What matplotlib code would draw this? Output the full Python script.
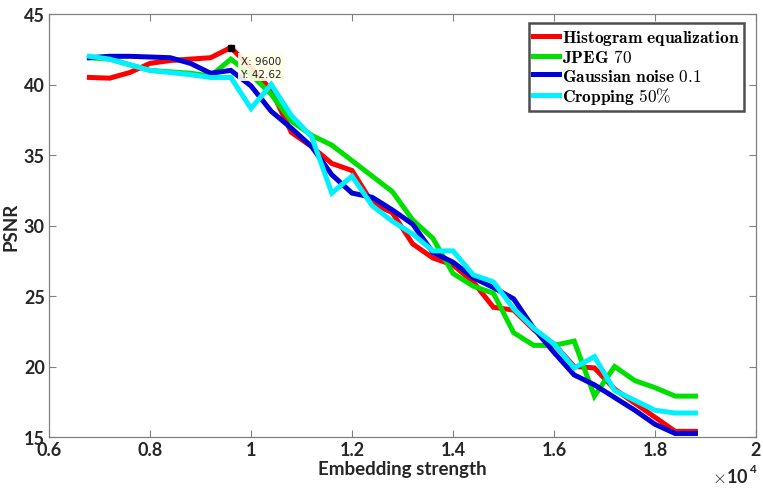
# -*- coding: utf-8 -*-
"""
PSNR vs embedding strength for four attacks (MATLAB style figure).
"""
import matplotlib
matplotlib.use('Agg')
import matplotlib.pyplot as plt

#------------------------------------------------------------------------------
# data
strength = [6800, 7200, 7600, 8000, 8400, 8800, 9200, 9600, 10000, 10400,
            10800, 11200, 11600, 12000, 12400, 12800, 13200, 13600, 14000,
            14400, 14800, 15200, 15600, 16000, 16400, 16800, 17200, 17600,
            18000, 18400, 18800]

hist_eq = [40.5, 40.45, 40.85, 41.5, 41.7, 41.8, 41.9, 42.62, 41.2, 39.6,
           36.6, 35.6, 34.4, 33.9, 31.6, 30.9, 28.7, 27.7, 27.2, 26.0,
           24.2, 24.0, 22.6, 21.6, 20.0, 19.9, 18.4, 17.4, 16.4, 15.4, 15.4]

jpeg70 = [41.9, 41.8, 41.4, 41.0, 40.9, 40.8, 40.6, 41.8, 40.7, 39.3,
          37.4, 36.4, 35.7, 34.6, 33.5, 32.4, 30.4, 29.1, 26.6, 25.7,
          25.2, 22.4, 21.5, 21.5, 21.8, 17.9, 20.0, 19.0, 18.5, 17.9, 17.9]

gauss01 = [41.9, 42.0, 42.0, 41.95, 41.9, 41.5, 40.8, 41.0, 39.9, 38.1,
           36.9, 35.6, 33.6, 32.3, 32.0, 31.1, 30.1, 28.1, 27.4, 26.3,
           25.6, 24.8, 22.7, 21.0, 19.4, 18.7, 17.8, 16.9, 15.9, 15.25, 15.25]

crop50 = [42.0, 41.8, 41.4, 41.0, 40.85, 40.7, 40.5, 40.5, 38.3, 40.0,
          37.8, 36.3, 32.3, 33.5, 31.4, 30.3, 29.4, 28.2, 28.2, 26.5,
          26.0, 24.1, 22.7, 21.6, 19.9, 20.7, 18.3, 17.6, 16.9, 16.7, 16.7]

series_names = [r'$\mathbf{Histogram\ equalization}$',
                r'$\mathbf{JPEG}$ $70$',
                r'$\mathbf{Gaussian\ noise}$ $0.1$',
                r'$\mathbf{Cropping}$ $50\%$']
series_colors = ['#FF0000', '#00E000', '#0000D8', '#00F0FF']

x_ticks = [6000, 8000, 10000, 12000, 14000, 16000, 18000, 20000]
x_tick_labels = ['0.6', '0.8', '1', '1.2', '1.4', '1.6', '1.8', '2']
y_ticks = [15, 20, 25, 30, 35, 40, 45]

tip_x = 9600
tip_y = 42.62

#------------------------------------------------------------------------------
def plot_psnr():
    plt.rcParams['mathtext.fontset'] = 'cm'
    fig = plt.figure(figsize=(7.63, 4.89), dpi=100)
    ax = fig.add_axes([49/763, 1 - 438/489, 707/763, 423/489])

    all_series = [hist_eq, jpeg70, gauss01, crop50]
    for values, name, color in zip(all_series, series_names, series_colors):
        ax.plot(strength, values, color=color, lw=3.6, label=name,
                solid_joinstyle='miter')

    ax.set_xlim(6000, 20000)
    ax.set_ylim(15, 45)
    ax.set_xticks(x_ticks)
    ax.set_xticklabels(x_tick_labels)
    ax.set_yticks(y_ticks)

    label_font = dict(family='Lato', weight='bold', size=13.5,
                      color='#262626')
    for lab in ax.get_xticklabels() + ax.get_yticklabels():
        lab.set_fontfamily('Lato')
        lab.set_fontweight('bold')
        lab.set_fontsize(13)
        lab.set_color('#262626')
    ax.tick_params(direction='in', top=True, right=True, length=5,
                   width=0.8, color='#808080', pad=3)
    for sp in ax.spines.values():
        sp.set_color('#808080')
        sp.set_linewidth(0.9)

    ax.set_xlabel('Embedding strength', fontdict=label_font, labelpad=1)
    ax.set_ylabel('PSNR', fontdict=label_font, labelpad=3)
    ax.text(0.99, -0.07, r'$\times$' + '10', transform=ax.transAxes,
            ha='right', va='top', family='Lato', weight='bold', size=13,
            color='#262626')
    ax.text(0.99, -0.062, '4', transform=ax.transAxes, ha='left',
            va='top', family='Lato', weight='bold', size=8.5,
            color='#262626')

    # data tip
    ax.plot([tip_x], [tip_y], marker='s', color='black', ms=5, zorder=5)
    ax.annotate('X: %d\nY: %.2f' % (tip_x, tip_y), xy=(tip_x, tip_y),
                xytext=(7, -6), textcoords='offset points', ha='left',
                va='top', fontsize=7.5, family='DejaVu Sans',
                color='#202020', linespacing=1.35,
                bbox=dict(boxstyle='square,pad=0.25', fc='#FFFFE8',
                          ec='none', alpha=0.9), zorder=6)

    leg = ax.legend(loc='upper right', fontsize=12.5, frameon=True,
                    fancybox=False, handlelength=1.5, handletextpad=0.15,
                    borderpad=0.25, labelspacing=0.05, borderaxespad=0.3,
                    bbox_to_anchor=(0.99, 0.99))
    leg.get_frame().set_edgecolor('#222222')
    leg.get_frame().set_linewidth(1.8)

    fig.savefig('out.png', dpi=100)
# end plot_psnr
#==============================================================================
if __name__ == '__main__':
    plot_psnr()
